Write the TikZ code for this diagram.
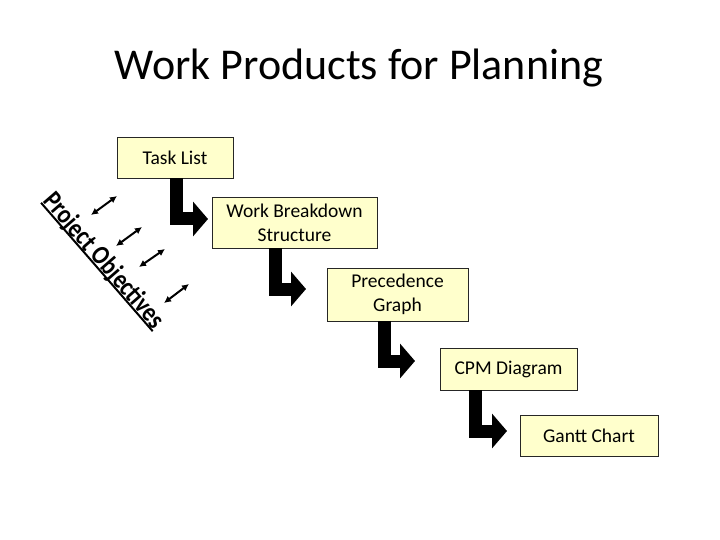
\documentclass[tikz,border=0pt]{standalone}
\usepackage{fontspec}
\setmainfont{Carlito}
\usetikzlibrary{arrows.meta}
\definecolor{boxfill}{HTML}{FFFFCC}
\newlength\polen
\tikzset{
  box/.style={draw=black!85, line width=0.8pt, fill=boxfill, inner sep=0pt, align=center,
    font=\fontsize{19.5}{24}\selectfont},
  elbow/.style={line width=13pt, -{Triangle[width=34pt,length=15pt]}},
  dbl/.style={line width=2pt, {Latex[length=7pt,width=7pt]}-{Latex[length=7pt,width=7pt]}},
}
\begin{document}
\begin{tikzpicture}[x=1pt,y=-1pt]
\path[use as bounding box, fill=white] (0,0) rectangle (720,540);
\node[font=\fontsize{44}{50}\selectfont] (title) at (359,68) {Work Products for Planning};
\node[box, minimum width=116pt, minimum height=41pt] (tl) at (175,157.5) {Task List};
\node[box, minimum width=165pt, minimum height=51pt] (wbs) at (294.5,222.5) {Work Breakdown\\Structure};
\node[box, minimum width=141pt, minimum height=53pt] (pg) at (397.5,294.5) {Precedence\\Graph};
\node[box, minimum width=137pt, minimum height=42pt] (cpm) at (508.5,369) {CPM Diagram};
\node[box, minimum width=138pt, minimum height=41pt] (gc) at (589,435.5) {Gantt Chart};
\coordinate (e1) at (208,219);
\coordinate (e2) at (306,289);
\coordinate (e3) at (415,361);
\coordinate (e4) at (507,431);
\draw[elbow] (tl.south -| 176.5,0) |- (e1);
\draw[elbow] (wbs.south -| 275,0) |- (e2);
\draw[elbow] (pg.south -| 384,0) |- (e3);
\draw[elbow] (cpm.south -| 475,0) |- (e4);
\node[rotate=-49, anchor=base, font=\bfseries\fontsize{27}{32}\selectfont, inner sep=0pt] (po) at (98,266)
  {\scalebox{0.84}[1]{\settowidth{\polen}{Project Objectives}\rlap{\rule[-2.5pt]{\polen}{2pt}}Project Objectives}};
\coordinate (a1s) at (91,215); \coordinate (a1e) at (117,196);
\coordinate (a2s) at (116,246); \coordinate (a2e) at (142,227);
\coordinate (a3s) at (139,267); \coordinate (a3e) at (165,249);
\coordinate (a4s) at (164,303); \coordinate (a4e) at (189,284);
\draw[dbl] (a1s) -- (a1e);
\draw[dbl] (a2s) -- (a2e);
\draw[dbl] (a3s) -- (a3e);
\draw[dbl] (a4s) -- (a4e);
\end{tikzpicture}
\end{document}
